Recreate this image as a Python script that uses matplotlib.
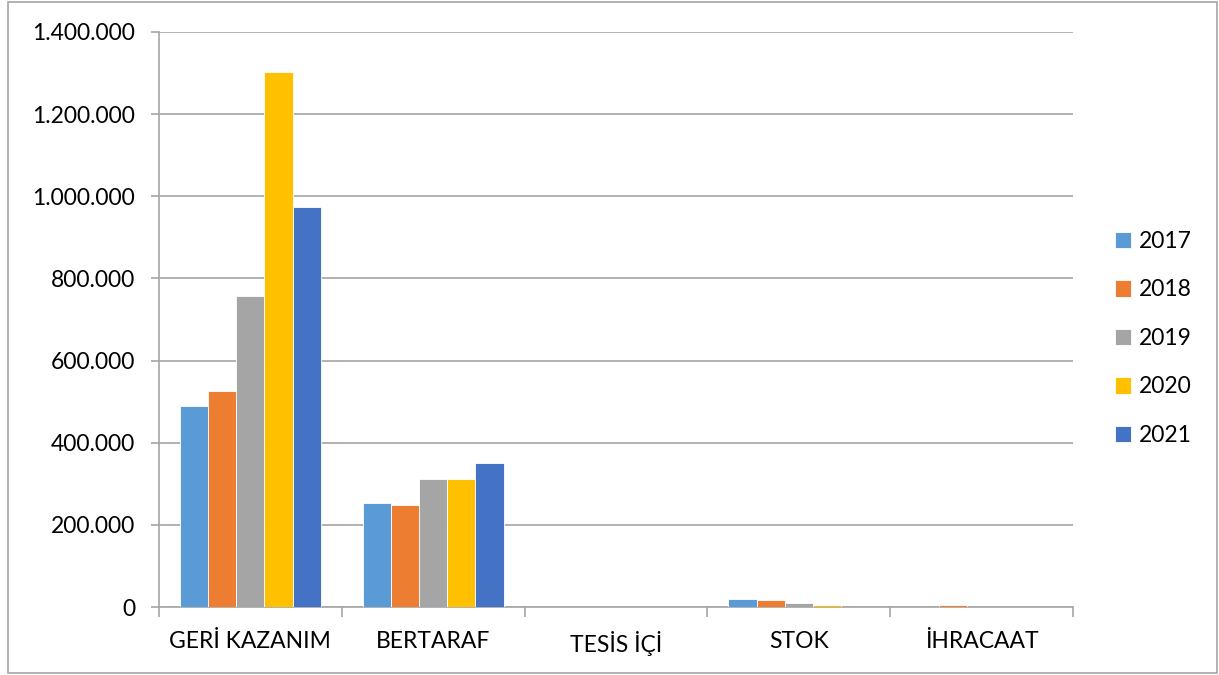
import matplotlib.pyplot as plt
import matplotlib.ticker as mticker
from matplotlib.patches import Rectangle
import numpy as np

categories = ['GERİ KAZANIM', 'BERTARAF', 'TESİS İÇİ', 'STOK', 'İHRACAAT']
years = ['2017', '2018', '2019', '2020', '2021']
v2017 = [489000, 253000, 0, 19000, 0]
v2018 = [526000, 248000, 0, 16500, 4000]
v2019 = [757000, 312000, 0, 11000, 0]
v2020 = [1302000, 311000, 0, 6000, 0]
v2021 = [974000, 351000, 0, 0, 0]
series = [v2017, v2018, v2019, v2020, v2021]
colors = ['#5b9bd5', '#ed7d31', '#a5a5a5', '#ffc000', '#4472c4']

plt.rcParams['font.family'] = ['Lato', 'DejaVu Sans']
fs = 16.5

fig = plt.figure(figsize=(12.19, 6.75), dpi=100)
ax = fig.add_axes([0.1304, 0.1007, 0.7498, 0.8519])

x = np.arange(len(categories))
w = 0.154
for i, (vals, c, yr) in enumerate(zip(series, colors, years)):
    ax.bar(x + (i - 2) * w, vals, width=w, color=c, edgecolor='white', linewidth=0.6, label=yr, zorder=3)

ax.set_xlim(-0.5, len(categories) - 0.5)
ax.set_ylim(0, 1400000)
ax.yaxis.set_major_locator(mticker.MultipleLocator(200000))
ax.yaxis.set_major_formatter(mticker.FuncFormatter(lambda v, p: f'{int(v):,}'.replace(',', '.')))
ax.grid(axis='y', color='#a6a6a6', linewidth=1.2, zorder=0)

ax.set_xticks(x)
ax.set_xticklabels(categories)
ax.set_xticks(np.arange(-0.5, len(categories)), minor=True)
ax.tick_params(axis='x', which='major', length=0, pad=17, labelsize=fs)
ax.tick_params(axis='x', which='minor', length=7, color='#a6a6a6', width=1.2)
ax.tick_params(axis='y', length=6, color='#a6a6a6', width=1.2, labelsize=fs, pad=11)

for s in ['top', 'right']:
    ax.spines[s].set_visible(False)
for s in ['left', 'bottom']:
    ax.spines[s].set_color('#a6a6a6')
    ax.spines[s].set_linewidth(1.2)

ax.legend(loc='center left', bbox_to_anchor=(1.023, 0.467), frameon=False, fontsize=fs,
          handlelength=0.72, handleheight=0.72, labelspacing=1.2, handletextpad=0.35)

fig.patches.append(Rectangle((0.0066, 0.003), 0.9918, 0.994, transform=fig.transFigure,
                             fill=False, edgecolor='#a6a6a6', linewidth=1.2))

fig.savefig('out.png', dpi=100)
